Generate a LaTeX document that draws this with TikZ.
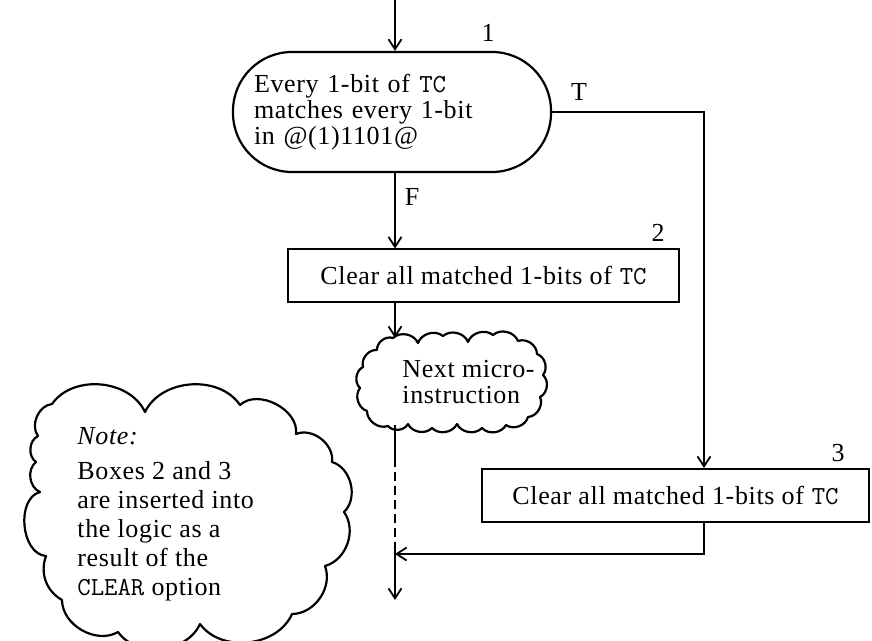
\documentclass[tikz,border=0pt]{standalone}
\usepackage{fontspec}
\setmainfont{Liberation Serif}[LetterSpace=2.5]
\usetikzlibrary{arrows.meta,positioning}
\tikzset{
    flowbox/.style={rectangle,draw=black,line width=1pt,minimum height=26.5pt,inner sep=0pt},
    decbox/.style={rectangle,draw=black,line width=1.1pt,rounded corners=29.5pt,minimum height=60pt,minimum width=159pt,align=left,inner sep=0pt},
    cloudline/.style={draw=black,line width=1.1pt,line join=round},
    cloudtext/.style={align=left,inner sep=0pt},
    flowline/.style={line width=0.9pt,draw=black},
    flowarrow/.style={flowline,-{Straight Barb[length=5pt,width=6.5pt]}},
    every node/.style={font=\fontsize{13}{13}\selectfont}
}
\begin{document}
\begin{tikzpicture}[x=0.5pt,y=-0.5pt]
  \useasboundingbox (0,0) rectangle (872,641);
  % boxes
  \node[decbox,text width=138pt] (dec) at (392,112)
    {Every 1-bit of \texttt{TC}\\matches every 1-bit\\in @(1)1101@};
  \node[flowbox,minimum width=195.5pt] (clr2) at (483.5,276) {Clear all matched 1-bits of \texttt{TC}};
  \node[flowbox,minimum width=193.5pt] (clr3) at (675.5,495.5) {Clear all matched 1-bits of \texttt{TC}};

  % next micro-instruction cloud
  \draw[cloudline] (393,338) to[bend left=55] (418,343) to[bend left=55] (443,336)
    to[bend left=55] (468,342) to[bend left=55] (493,335) to[bend left=55] (518,341)
    to[bend left=55] (537,354) to[bend left=55] (543,375) to[bend left=55] (540,397)
    to[bend left=55] (528,417) to[bend left=55] (506,425) to[bend left=55] (482,428)
    to[bend left=55] (457,424) to[bend left=55] (432,428) to[bend left=55] (408,424)
    to[bend left=55] (388,426) to[bend left=55] (367,411) to[bend left=55] (360,388)
    to[bend left=55] (363,367) to[bend left=55] (377,350) to[bend left=55] cycle;
  \node[cloudtext,anchor=west] (nexttext) at (402,382) {Next micro-\\instruction};

  % note cloud
  \draw[cloudline] (52,404) to[bend left=60] (145,412) to[bend left=60] (240,405)
    to[bend left=70] (296,434) to[bend left=60] (332,462) to[bend left=60] (344,512)
    to[bend left=55] (325,566) to[bend left=55] (292,614) to[bend left=60] (200,624)
    to[bend left=60] (118,632) to[bend left=60] (62,600) to[bend left=40] (46,556)
    to[bend left=80] (40,492) to[bend left=60] (36,462) to[bend left=60] (38,436)
    to[bend left=60] cycle;
  \node[cloudtext,anchor=north west,font=\fontsize{13}{14.5}\selectfont] (notetext) at (77,427)
    {\textit{Note:}\\[3pt]Boxes 2 and 3\\are inserted into\\the logic as a\\result of the\\\texttt{CLEAR} option};

  % labels
  \node (n1) at (488,33) {1};
  \node (n2) at (658,233) {2};
  \node (n3) at (838,453) {3};
  \node (lt) at (579,92) {T};
  \node (lf) at (412,197) {F};

  % connectors
  \coordinate (top) at (395,0);
  \coordinate (nexttop) at (395,338);
  \coordinate (nextbot) at (395,425);
  \coordinate (dash1) at (395,458);
  \coordinate (dash2) at (395,548);
  \coordinate (out) at (395,600);
  \coordinate (jn) at (395,554);
  \coordinate (tc) at (704,112);

  \draw[flowarrow] (top) -- (top |- dec.north);
  \draw[flowarrow] (top |- dec.south) -- (top |- clr2.north);
  \draw[flowarrow] (top |- clr2.south) -- (nexttop);
  \draw[flowarrow] (dec.east) -- (tc) -- (tc |- clr3.north);
  \draw[flowarrow] (tc |- clr3.south) -- (tc |- jn) -- (jn);
  \draw[flowline] (nextbot) -- (dash1);
  \draw[flowline,dash pattern=on 4.5pt off 2.5pt] (dash1) -- (dash2);
  \draw[flowarrow] (dash2) -- (out);
\end{tikzpicture}
\end{document}
